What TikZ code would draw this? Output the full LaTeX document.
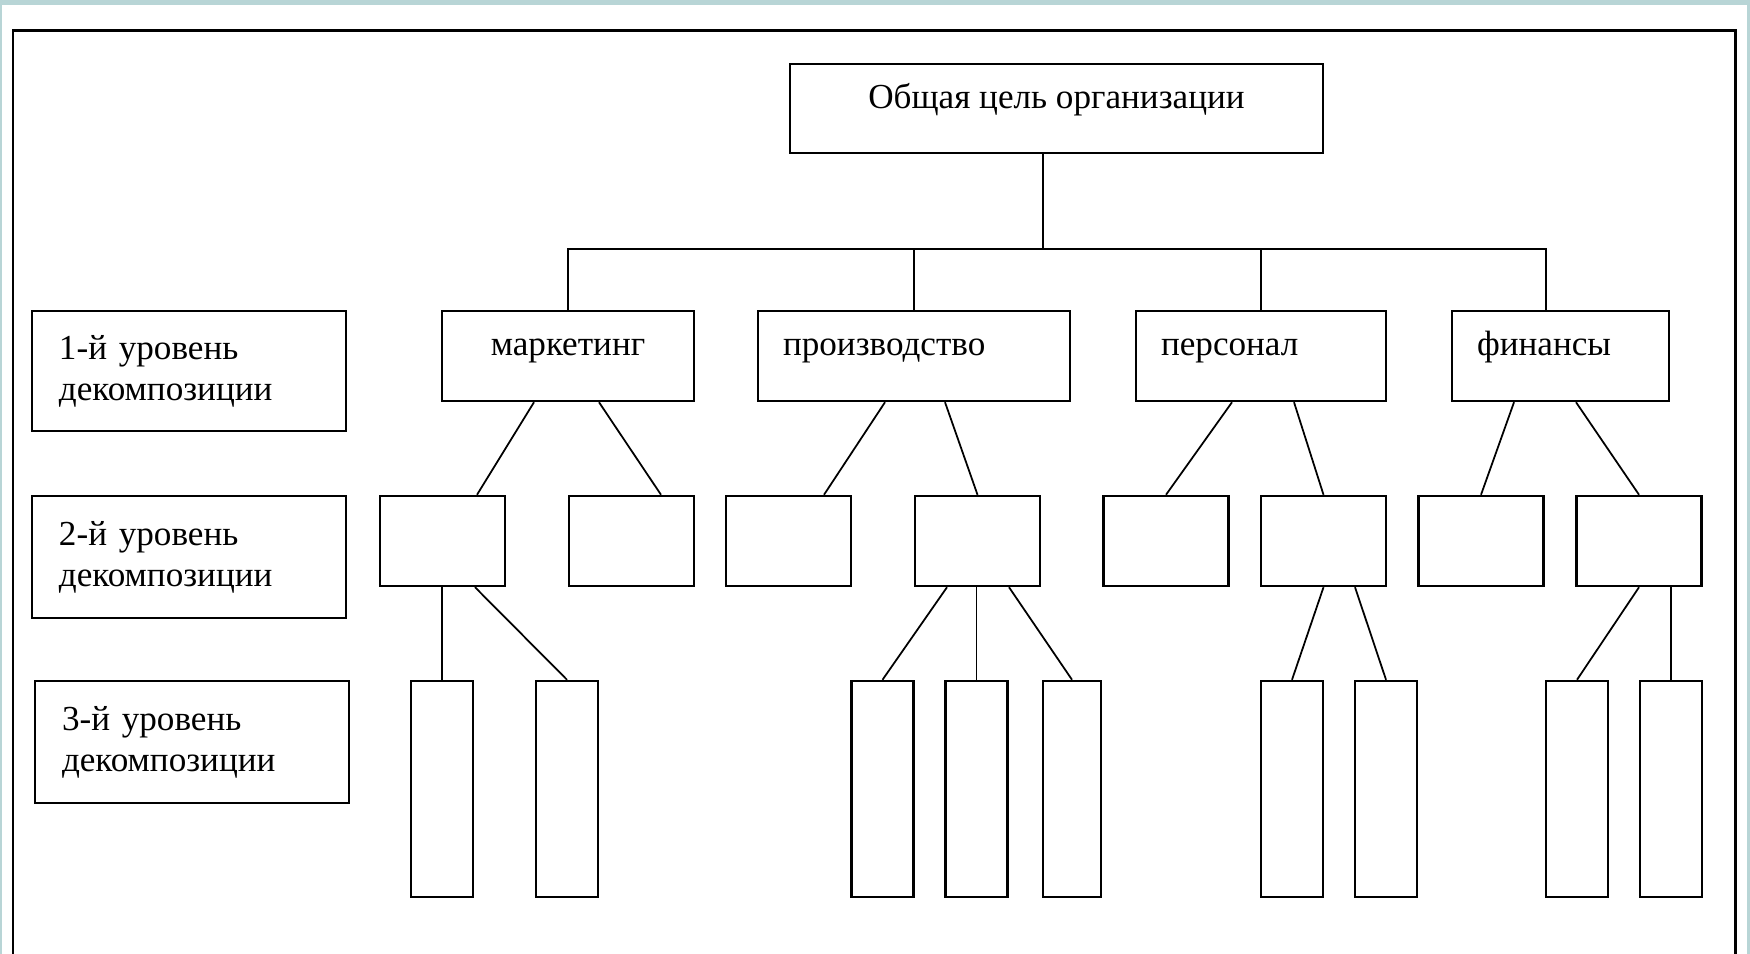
\documentclass[tikz,border=0pt]{standalone}
\usepackage{fontspec}
\setmainfont{Liberation Serif}
\usepackage{xcolor}
\usetikzlibrary{calc,positioning}

\definecolor{slidebg}{HTML}{B8D5D6}

\begin{document}
\begin{tikzpicture}[line width=.5pt,
    box/.style={draw,line width=.7pt,rectangle,inner sep=0pt},
    goalbox/.style={box,minimum width=5.33cm,minimum height=.89cm,text height=.25cm,text depth=.25cm},
    dirbox/.style={box,minimum height=.9cm,inner xsep=.25cm,text height=.25cm,text depth=.25cm,align=left},
    subbox/.style={box,minimum width=1.25cm,minimum height=.9cm},
    leafbox/.style={box,minimum width=.62cm,minimum height=2.16cm},
    levelbox/.style={box,inner xsep=.27cm,inner ysep=0pt,text width=2.6cm,align=left,
        font=\fontsize{10}{11.6}\selectfont}]
        \useasboundingbox (0,0) rectangle (17.5,-9.54);
        %background and frame
        \fill[slidebg] (0,0) rectangle (17.5,-9.54);
        \fill[white] (.02,-.05) rectangle (17.47,-9.54);
        \draw[line width=.85pt] (.13,-9.54) -- (.13,-.31) -- (17.35,-.31) -- (17.35,-9.54);

        %nodes
        \node[goalbox] (goal) at (10.565,-1.085) {Общая цель организации};

        \node[dirbox,text width=2.02cm,align=center] (mk) at (5.68,-3.56) {маркетинг};
        \node[dirbox,text width=2.62cm] (pr) at (9.14,-3.56) {производство};
        \node[dirbox,text width=2cm] (ps) at (12.61,-3.56) {персонал};
        \node[dirbox,text width=1.67cm] (fi) at (15.605,-3.56) {финансы};

        \node[levelbox,minimum height=1.2cm] (lvl1) at (1.89,-3.71) {1-й уровень\\декомпозиции};
        \node[levelbox,minimum height=1.22cm] (lvl2) at (1.89,-5.57) {2-й уровень\\декомпозиции};
        \node[levelbox,minimum height=1.22cm] (lvl3) at (1.92,-7.42) {3-й уровень\\декомпозиции};

        \node[subbox] (a1) at (4.425,-5.41) {};
        \node[subbox] (a2) at (6.315,-5.41) {};
        \node[subbox] (b1) at (7.885,-5.41) {};
        \node[subbox] (b2) at (9.775,-5.41) {};
        \node[subbox] (c1) at (11.66,-5.41) {};
        \node[subbox] (c2) at (13.235,-5.41) {};
        \node[subbox] (d1) at (14.81,-5.41) {};
        \node[subbox] (d2) at (16.39,-5.41) {};

        \node[leafbox] (a1a) at (4.42,-7.89) {};
        \node[leafbox] (a1b) at (5.67,-7.89) {};
        \node[leafbox] (b2a) at (8.825,-7.89) {};
        \node[leafbox] (b2b) at (9.765,-7.89) {};
        \node[leafbox,minimum width=.58cm] (b2c) at (10.72,-7.89) {};
        \node[leafbox] (c2a) at (12.92,-7.89) {};
        \node[leafbox] (c2b) at (13.86,-7.89) {};
        \node[leafbox] (d2a) at (15.77,-7.89) {};
        \node[leafbox] (d2b) at (16.71,-7.89) {};

        %goal to directions
        \draw ([xshift=-.135cm]goal.south) -- ++(0,-.95) coordinate (bus);
        \draw (mk.north) |- (bus) -| ([xshift=-.145cm]fi.north);
        \draw (pr.north) -- (pr.north |- bus);
        \draw (ps.north) -- (ps.north |- bus);

        %first level to second
        \draw ([xshift=-.34cm]mk.south) -- ([xshift=.345cm]a1.north);
        \draw ([xshift=.31cm]mk.south) -- ([xshift=.295cm]a2.north);
        \draw ([xshift=-.29cm]pr.south) -- ([xshift=.355cm]b1.north);
        \draw ([xshift=.31cm]pr.south) -- (b2.north);
        \draw ([xshift=-.29cm]ps.south) -- (c1.north);
        \draw ([xshift=.33cm]ps.south) -- (c2.north);
        \draw ([xshift=-.465cm]fi.south) -- (d1.north);
        \draw ([xshift=.155cm]fi.south) -- (d2.north);

        %second level to third
        \draw (a1a.north |- a1.south) -- (a1a.north);
        \draw ([xshift=.325cm]a1.south) -- (a1b.north);
        \draw ([xshift=-.305cm]b2.south) -- (b2a.north);
        \draw (b2b.north |- b2.south) -- (b2b.north);
        \draw ([xshift=.315cm]b2.south) -- (b2c.north);
        \draw (c2.south) -- (c2a.north);
        \draw ([xshift=.315cm]c2.south) -- (c2b.north);
        \draw (d2.south) -- (d2a.north);
        \draw (d2b.north |- d2.south) -- (d2b.north);
\end{tikzpicture}
\end{document}
